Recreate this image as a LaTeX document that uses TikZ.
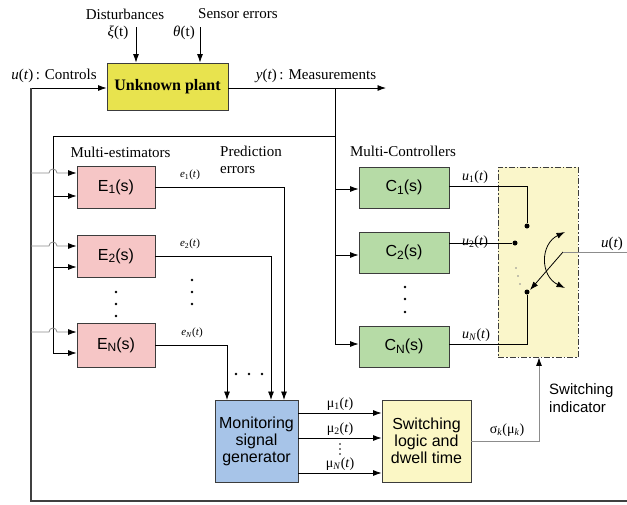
\documentclass[tikz,border=0pt]{standalone}
\usepackage{fontspec}
\setmainfont{Liberation Serif}
\setsansfont{Liberation Sans}
\usetikzlibrary{arrows.meta}
\definecolor{plantfill}{RGB}{232,227,78}
\definecolor{estfill}{RGB}{246,198,198}
\definecolor{ctrlfill}{RGB}{182,219,166}
\definecolor{monfill}{RGB}{167,196,232}
\definecolor{logicfill}{RGB}{251,247,197}
\definecolor{swfill}{RGB}{250,246,202}
\definecolor{boxline}{RGB}{60,60,60}
\definecolor{softline}{RGB}{140,140,140}
\tikzset{
  blk/.style={draw=boxline, line width=0.9pt, inner sep=0pt, font=\sffamily\fontsize{16}{19}\selectfont},
  estbox/.style={blk, fill=estfill, minimum width=78pt, minimum height=42pt},
  ctrlbox/.style={blk, fill=ctrlfill, minimum width=90pt, minimum height=41pt},
  wire/.style={line width=0.8pt, draw=black},
  gwire/.style={line width=0.8pt, draw=softline},
  tip/.style={-{Latex[length=8.5pt,width=6pt]}},
  btip/.style={-{Latex[length=8.5pt,width=6pt,color=black]}},
  lbl/.style={font=\fontsize{15}{17}\selectfont, inner sep=0pt},
  sig/.style={font=\fontsize{14}{16}\selectfont, inner sep=0pt},
  tiny/.style={font=\fontsize{11}{13}\selectfont, inner sep=0pt},
  sans/.style={font=\sffamily\fontsize{16}{19}\selectfont, inner sep=0pt},
  dot/.style={circle, fill=black, inner sep=0pt, minimum size=2.8pt},
  gdot/.style={circle, fill=softline, inner sep=0pt, minimum size=1.8pt},
  bigdot/.style={circle, fill=black, inner sep=0pt, minimum size=5pt},
}
\newcommand{\iv}[1]{\textit{#1}}
\newcommand{\bsub}[1]{\raisebox{-2.5pt}{\fontsize{12}{12}\selectfont #1}}
\begin{document}
\begin{tikzpicture}[x=1pt,y=-1pt]
\useasboundingbox (0,0) rectangle (627,504);

% ---- plant and its surroundings
\node[blk, fill=plantfill, minimum width=121pt, minimum height=47pt,
      font=\bfseries\fontsize{16}{19}\selectfont] (plant) at (167.5,86.5) {Unknown plant};
\node[lbl] (dist) at (125,14) {Disturbances};
\node[lbl] (senserr) at (238,14) {Sensor errors};
\node[lbl] (xi) at (118,33) {\iv{ξ}(t)};
\node[lbl] (theta) at (184,33) {\iv{θ}(t)};
\coordinate (xitop) at (136,27);
\coordinate (thtop) at (200,27);
\draw[wire,tip] (xitop) -- (xitop |- plant.north);
\draw[wire,tip] (thtop) -- (thtop |- plant.north);
\node[lbl] (ulab) at (54,76) {\iv{u}(\iv{t})\,: Controls};
\node[lbl] (ylab) at (316,76) {\iv{y}(\iv{t})\,: Measurements};

\coordinate (ybus) at (335,88);
\coordinate (yend) at (386,88);
\coordinate (ucorner) at (31,88);
\coordinate (ubottom) at (31,501);
\coordinate (bottomend) at (627,501);
\draw[wire,tip] (plant.east |- ybus) -- (yend);
\draw[wire,tip] (ucorner) -- (plant.west |- ucorner);
\draw[line width=1.3pt, draw=black!75] (bottomend) -- (ubottom) -- (ucorner);

% ---- multi-estimators
\node[lbl] (mest) at (120.5,152) {Multi-estimators};
\node[lbl, align=left, anchor=west] (prederr) at (220,160) {Prediction\\errors};
\node[estbox] (E1) at (116,187) {E\bsub{1}(s)};
\node[estbox] (E2) at (116,256) {E\bsub{2}(s)};
\node[estbox, minimum height=44pt] (EN) at (116,345) {E\bsub{N}(s)};

\coordinate (ebusTop) at (53,136);
\coordinate (ebusBot) at (53,353);
\draw[wire] (ybus) |- (ebusTop) -- (ebusBot);

% measurement inputs (lower)
\foreach \b/\yy in {E1/196, E2/267, EN/353}{
  \draw[wire,tip] (53,\yy) -- (\b.west |- 0,\yy);
}
% control inputs (upper), hopping over the measurement bus
\foreach \b/\yy in {E1/173, E2/246, EN/332}{
  \draw[gwire,btip] (31,\yy) -- (49,\yy) arc[start angle=180, end angle=360, radius=4] -- (\b.west |- 0,\yy);
}

\node[tiny] (e1) at (190,175) {\iv{e}\textsubscript{1}(\iv{t})};
\node[tiny] (e2) at (190,244) {\iv{e}\textsubscript{2}(\iv{t})};
\node[tiny] (eN) at (192,333) {\iv{e}\textsubscript{\iv{N}}(\iv{t})};

\foreach \yy in {292,304,316} \node[dot] at (116,\yy) {};
\foreach \yy in {280,292,304} \node[dot] at (192,\yy) {};
\foreach \xx in {236,249,262} \node[dot] at (\xx,374) {};

% ---- monitoring and switching logic
\node[blk, fill=monfill, minimum width=83pt, minimum height=82pt, align=center] (mon) at (256.5,441)
  {Monitoring\\[-2pt]signal\\[-2pt]generator};
\node[blk, fill=logicfill, minimum width=89pt, minimum height=82pt, align=center] (logic) at (426.5,441)
  {Switching\\[-2pt]logic and\\[-2pt]dwell time};

\coordinate (m1) at (284,400);
\coordinate (m2) at (271,400);
\coordinate (mN) at (227,400);
\draw[wire,tip] (E1.east) -| (m1);
\draw[wire,tip] (E2.east) -| (m2);
\draw[wire,tip] (EN.east) -| (mN);

\foreach \yy in {413,438,473}{
  \draw[wire,tip] (mon.east |- 0,\yy) -- (logic.west |- 0,\yy);
}
\node[sig] (mu1) at (340,404) {μ\textsubscript{1}(\iv{t})};
\node[sig] (mu2) at (340,429) {μ\textsubscript{2}(\iv{t})};
\node[sig] (muN) at (340,464) {μ\textsubscript{\iv{N}}(\iv{t})};
\foreach \yy in {444,449,454} \node[circle, fill=black, inner sep=0pt, minimum size=1.8pt] at (340,\yy) {};

% ---- multi-controllers
\node[lbl] (mctrl) at (403,151) {Multi-Controllers};
\node[ctrlbox] (C1) at (404,187.5) {C\bsub{1}(s)};
\node[ctrlbox] (C2) at (404,252.5) {C\bsub{2}(s)};
\node[ctrlbox] (CN) at (404,346.5) {C\bsub{N}(s)};
\draw[wire] (ybus) -- (335,344);
\draw[wire,tip] (335,189) -- (C1.west |- 0,189);
\draw[wire,tip] (335,255) -- (C2.west |- 0,255);
\draw[wire,tip] (335,344) -- (CN.west |- 0,344);
\foreach \yy in {287,299,312} \node[dot] at (405,\yy) {};

% ---- switch
\node[draw=boxline, fill=swfill, line width=0.9pt, dash pattern=on 6pt off 2pt on 1.5pt off 2pt,
      minimum width=80pt, minimum height=190pt, inner sep=0pt] (switch) at (538,262) {};
\node[bigdot] (s1) at (527,226) {};
\node[bigdot] (s2) at (515,243) {};
\node[bigdot] (sN) at (527,292) {};
\node[gdot] at (516,268) {};
\node[gdot] at (518,276) {};
\node[gdot] at (520,284) {};

\draw[wire] (C1.east |- 0,186) -| (s1);
\draw[wire] (C2.east |- 0,243) -- (s2);
\draw[wire] (CN.east |- 0,344) -| (sN);
\node[sig] (u1) at (475,177) {\iv{u}\textsubscript{1}(\iv{t})};
\node[sig] (u2) at (475,242) {\iv{u}\textsubscript{2}(\iv{t})};
\node[sig] (uN) at (476,335) {\iv{u}\textsubscript{\iv{N}}(\iv{t})};

\coordinate (pivot) at (563,252);
\coordinate (armtip) at (530,290);
\coordinate (rotA) at (565,232);
\coordinate (rotB) at (565,288);
\coordinate (uout) at (627,252);
\draw[wire,tip] (pivot) -- (armtip);
\draw[wire,{Latex[length=8.5pt,width=6pt]}-{Latex[length=8.5pt,width=6pt]}]
  (rotA) .. controls (540,244) and (540,276) .. (rotB);
\draw[gwire] (pivot) -- (uout);
\node[lbl] (uright) at (612,244) {\iv{u}(\iv{t})};

% ---- switching indicator
\coordinate (sigcorner) at (539,441);
\draw[gwire,btip] (logic.east |- sigcorner) -- (sigcorner) -- (switch.south -| sigcorner);
\node[sig] (sigma) at (507,430) {σ\textsubscript{\iv{k}}(μ\textsubscript{\iv{k}})};
\node[sans, align=left, anchor=west, font=\sffamily\fontsize{15}{18}\selectfont] (swind) at (549,398) {Switching\\indicator};
\end{tikzpicture}
\end{document}
